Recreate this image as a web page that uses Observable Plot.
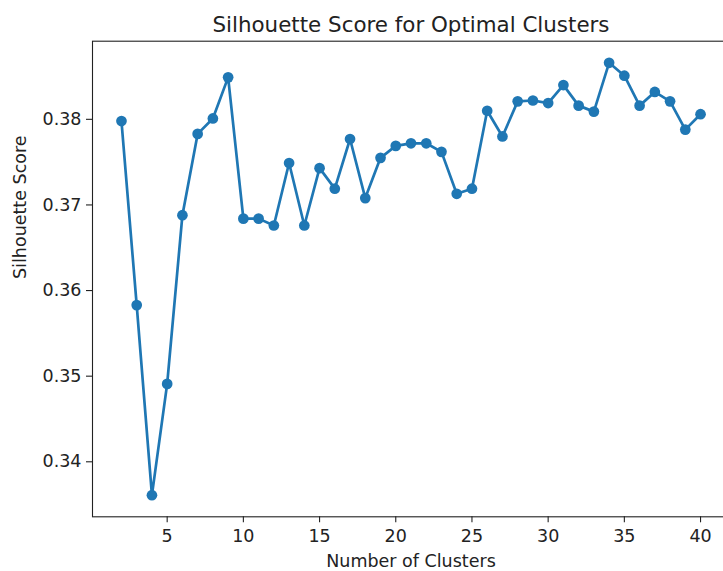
<!DOCTYPE html>
<html>
<head>
<meta charset="utf-8">
<script src="https://cdn.jsdelivr.net/npm/d3@7"></script>
<script src="https://cdn.jsdelivr.net/npm/@observablehq/plot@0.6"></script>
<style>
  html, body { margin: 0; padding: 0; background: white; overflow: hidden; }
  #chart svg { display: block; }
</style>
</head>
<body>
<div id="chart"></div>
<script>
const clusters = [2,3,4,5,6,7,8,9,10,11,12,13,14,15,16,17,18,19,20,21,22,23,24,25,26,27,28,29,30,31,32,33,34,35,36,37,38,39,40];
const scores = [0.3798,0.3583,0.3361,0.3491,0.3688,0.3783,0.3801,0.3849,0.3684,0.3684,0.3676,0.3749,0.3676,0.3743,0.3719,0.3777,0.3708,0.3755,0.3769,0.3772,0.3772,0.3762,0.3713,0.3719,0.3810,0.3780,0.3821,0.3822,0.3819,0.3840,0.3816,0.3809,0.3866,0.3851,0.3816,0.3832,0.3821,0.3788,0.3806];
const xTicks = [5,10,15,20,25,30,35,40];
const yTicks = [0.34,0.35,0.36,0.37,0.38];
const title = "Silhouette Score for Optimal Clusters";
const xLabel = "Number of Clusters";
const yLabel = "Silhouette Score";

const data = clusters.map((k, i) => ({k, s: scores[i]}));

// matplotlib-like 5% margins
const [x0, x1] = d3.extent(clusters);
const [y0, y1] = d3.extent(scores);
const xPad = (x1 - x0) * 0.05, yPad = (y1 - y0) * 0.05;

const color = "#1f77b4";
const font = "DejaVu Sans";

const chart = Plot.plot({
  width: 723,
  height: 571,
  marginTop: 40.7,
  marginBottom: 54.7,
  marginLeft: 92,
  marginRight: -6,
  style: {fontFamily: font, fontSize: "17.5px", color: "#222", background: "white", overflow: "hidden"},
  x: {domain: [x0 - xPad, x1 + xPad]},
  y: {domain: [y0 - yPad, y1 + yPad]},
  marks: [
    Plot.frame({stroke: "#222", strokeWidth: 1.1}),
    Plot.axisX({ticks: xTicks, tickSize: 6, tickPadding: 7, tickFormat: d => String(d), label: null, stroke: "#222", strokeWidth: 1.1, fontSize: 17.5}),
    Plot.axisY({ticks: yTicks, tickSize: 6, tickPadding: 5, tickFormat: d3.format(".2f"), label: null, stroke: "#222", strokeWidth: 1.1, fontSize: 17.5}),
    Plot.line(data, {x: "k", y: "s", stroke: color, strokeWidth: 2.7}),
    Plot.dot(data, {x: "k", y: "s", fill: color, r: 5.35, stroke: null}),
    Plot.text([title], {text: d => d, frameAnchor: "top", lineAnchor: "bottom", dy: -9, fontSize: 21.4, fill: "#222"}),
    Plot.text([xLabel], {text: d => d, frameAnchor: "bottom", lineAnchor: "bottom", dy: 50, fontSize: 17.5, fill: "#222"}),
    Plot.text([yLabel], {text: d => d, frameAnchor: "left", rotate: -90, dx: -72, lineAnchor: "middle", fontSize: 17.5, fill: "#222"})
  ]
});
document.getElementById("chart").append(chart);
</script>
</body>
</html>
